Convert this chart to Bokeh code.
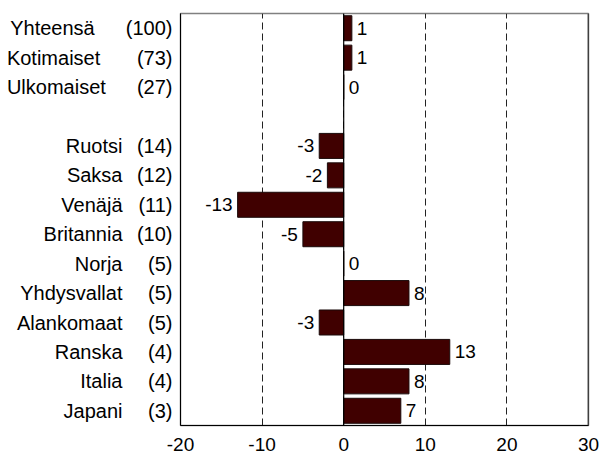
from bokeh.plotting import figure
from bokeh.models import (ColumnDataSource, LabelSet, Span, FixedTicker, LinearAxis, Range1d)
from bokeh.core.properties import value
from bokeh.embed import file_html
from bokeh.resources import INLINE

# ---- data (top to bottom) ----
group_names = ["Yhteensä", "Kotimaiset", "Ulkomaiset"]
group_counts = ["(100)", "(73)", "(27)"]
group_values = [1, 1, 0]

country_names = ["Ruotsi", "Saksa", "Venäjä", "Britannia", "Norja", "Yhdysvallat",
                 "Alankomaat", "Ranska", "Italia", "Japani"]
country_counts = ["(14)", "(12)", "(11)", "(10)", "(5)", "(5)", "(5)", "(4)", "(4)", "(3)"]
country_values = [-3, -2, -13, -5, 0, 8, -3, 13, 8, 7]

x_ticks = [-20, -10, 0, 10, 20, 30]

# row layout: groups, one empty row, countries (top to bottom)
all_names = group_names + country_names
all_counts = group_counts + country_counts
all_values = group_values + country_values
n_rows = len(group_names) + 1 + len(country_names)
row_index = list(range(len(group_names))) + [len(group_names) + 1 + i for i in range(len(country_names))]
ypos = [n_rows - 1 - r for r in row_index]

FONT = "Liberation Sans"
FS = "19px"
FS_CAT = "20px"
BAR = "#400000"

p = figure(width=600, height=453, output_backend="svg", toolbar_location=None,
           x_range=(x_ticks[0], x_ticks[-1]), y_range=Range1d(-0.5, n_rows - 0.5),
           min_border_left=180, min_border_top=13, min_border_right=12)

# bars
bar_src = ColumnDataSource(dict(y=ypos, v=all_values))
p.hbar(y="y", left=0, right="v", height=0.85, source=bar_src,
       fill_color=BAR, line_color="#1a0a0a", line_width=1)

# zero line and right frame side
p.add_layout(Span(location=0, dimension="height", line_color="black", line_width=1.2))
p.add_layout(Span(location=x_ticks[-1], dimension="height", line_color="black", line_width=1.5))

# value labels
pos = [(y, v) for y, v in zip(ypos, all_values) if v >= 0]
neg = [(y, v) for y, v in zip(ypos, all_values) if v < 0]
pos_src = ColumnDataSource(dict(y=[a for a, _ in pos], x=[b for _, b in pos],
                                t=[str(b) for _, b in pos]))
neg_src = ColumnDataSource(dict(y=[a for a, _ in neg], x=[b for _, b in neg],
                                t=[str(b) for _, b in neg]))
p.add_layout(LabelSet(x="x", y="y", text="t", source=pos_src, x_offset=5,
                      text_align="left", text_baseline="middle",
                      text_font=value(FONT), text_font_size=value(FS), text_color="black"))
p.add_layout(LabelSet(x="x", y="y", text="t", source=neg_src, x_offset=-5,
                      text_align="right", text_baseline="middle",
                      text_font=value(FONT), text_font_size=value(FS), text_color="black"))

# category labels via two left axes: counts (inner) and names (outer)
# group names are left-aligned in the reference: pad them with no-break spaces
group_pad = {"Yhteensä": 5, "Kotimaiset": 4, "Ulkomaiset": 3}
count_map = {y: c for y, c in zip(ypos, all_counts)}
name_map = {y: n + "\u00a0" * group_pad.get(n, 0) for y, n in zip(ypos, all_names)}

def style_axis(ax, overrides, standoff, line_color):
    ax.ticker = FixedTicker(ticks=ypos)
    ax.major_label_overrides = overrides
    ax.major_tick_line_color = None
    ax.minor_tick_line_color = None
    ax.major_tick_out = 0
    ax.major_tick_in = 0
    ax.minor_tick_out = 0
    ax.minor_tick_in = 0
    ax.major_label_standoff = standoff
    ax.axis_line_color = line_color
    ax.major_label_text_font = FONT
    ax.major_label_text_font_size = FS_CAT
    ax.major_label_text_color = "black"

style_axis(p.yaxis[0], count_map, 8, "black")
outer = LinearAxis()
style_axis(outer, name_map, 0, None)
p.add_layout(outer, "left")

# x axis
p.xaxis.ticker = FixedTicker(ticks=x_ticks)
p.xaxis.major_label_overrides = {t: str(t) for t in x_ticks}
p.xaxis.major_tick_line_color = None
p.xaxis.minor_tick_line_color = None
p.xaxis.major_tick_out = 0
p.xaxis.major_tick_in = 0
p.xaxis.minor_tick_out = 0
p.xaxis.minor_tick_in = 0
p.xaxis.axis_line_color = "black"
p.xaxis.major_label_text_font = FONT
p.xaxis.major_label_text_font_size = FS
p.xaxis.major_label_text_color = "black"
p.xaxis.major_label_standoff = 12

# grid
p.ygrid.grid_line_color = None
p.xgrid.ticker = FixedTicker(ticks=x_ticks)
p.xgrid.grid_line_color = "#222222"
p.xgrid.grid_line_dash = "7 4"
p.xgrid.grid_line_width = 1

p.outline_line_color = "#808080"
p.outline_line_width = 1.5

open("out.html", "w").write(file_html(p, INLINE))
